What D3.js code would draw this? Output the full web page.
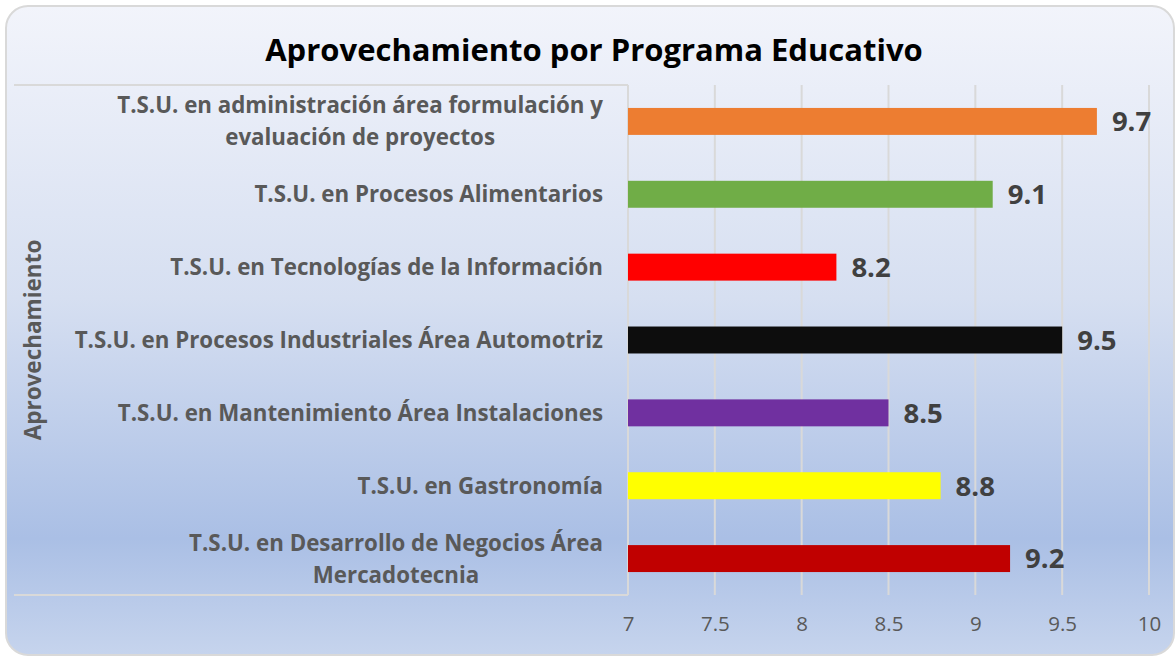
<!DOCTYPE html>
<html>
<head>
<meta charset="utf-8">
<script src="https://cdn.jsdelivr.net/npm/d3@7"></script>
<style>
  html, body { margin: 0; padding: 0; background: #fff; }
  svg { display: block; font-family: "Open Sans", Lato, sans-serif; }
</style>
</head>
<body>
<svg id="chart" width="1176" height="658"></svg>
<script>
// chart data
const categories = [
  "T.S.U. en administración área formulación y\nevaluación de proyectos",
  "T.S.U. en Procesos Alimentarios",
  "T.S.U. en Tecnologías de la Información",
  "T.S.U. en Procesos Industriales Área Automotriz",
  "T.S.U. en Mantenimiento Área Instalaciones",
  "T.S.U. en Gastronomía",
  "T.S.U. en Desarrollo de Negocios Área\nMercadotecnia"
];
const values = [9.7, 9.1, 8.2, 9.5, 8.5, 8.8, 9.2];
const barColors = ["#ED7D31", "#70AD47", "#FF0000", "#0D0D0D", "#7030A0", "#FFFF00", "#C00000"];
const ticks = [7, 7.5, 8, 8.5, 9, 9.5, 10];

const svg = d3.select("#chart");

// background
const defs = svg.append("defs");
const grad = defs.append("linearGradient")
  .attr("id", "bg").attr("x1", 0).attr("y1", 0).attr("x2", 0).attr("y2", 1);
grad.append("stop").attr("offset", "0%").attr("stop-color", "#f2f4fb");
grad.append("stop").attr("offset", "45%").attr("stop-color", "#d6dff1");
grad.append("stop").attr("offset", "82%").attr("stop-color", "#aabfe5");
grad.append("stop").attr("offset", "100%").attr("stop-color", "#c6d4ed");

svg.append("rect")
  .attr("x", 6).attr("y", 6).attr("width", 1168).attr("height", 649)
  .attr("rx", 22).attr("ry", 22)
  .attr("fill", "url(#bg)")
  .attr("stroke", "#d9d9d9").attr("stroke-width", 2);

// scales
const x = d3.scaleLinear().domain([7, 10]).range([628, 1149]);
const y = d3.scaleBand().domain(categories).range([85, 595]).paddingInner(0.63).paddingOuter(0.315);

// gridlines
svg.append("g")
  .selectAll("line")
  .data(ticks)
  .join("line")
  .attr("x1", d => x(d)).attr("x2", d => x(d))
  .attr("y1", 85).attr("y2", 595)
  .attr("stroke", "#d9d9d9").attr("stroke-width", 2);

// label table lines
svg.append("line").attr("x1", 14).attr("x2", x(7)).attr("y1", 85).attr("y2", 85)
  .attr("stroke", "#d9d9d9").attr("stroke-width", 2);
svg.append("line").attr("x1", 14).attr("x2", x(7)).attr("y1", 595).attr("y2", 595)
  .attr("stroke", "#d9d9d9").attr("stroke-width", 2);

// x axis labels
const xAxis = d3.axisBottom(x).tickValues(ticks).tickSize(0).tickPadding(0).tickFormat(d3.format("~g"));
const gx = svg.append("g").attr("transform", "translate(0,616)").call(xAxis);
gx.select(".domain").remove();
gx.selectAll("text")
  .attr("font-family", "'Open Sans', sans-serif")
  .attr("font-size", 20.5)
  .attr("fill", "#595959")
  .attr("dy", "0.71em");

// bars
svg.append("g")
  .selectAll("rect")
  .data(values)
  .join("rect")
  .attr("x", x(7))
  .attr("y", (d, i) => y(categories[i]))
  .attr("width", d => x(d) - x(7))
  .attr("height", y.bandwidth())
  .attr("fill", (d, i) => barColors[i]);

// value labels
svg.append("g")
  .selectAll("text")
  .data(values)
  .join("text")
  .attr("x", d => x(d) + 15)
  .attr("y", (d, i) => y(categories[i]) + y.bandwidth() / 2)
  .attr("dy", "0.36em")
  .attr("font-size", 27.5)
  .attr("font-weight", 700)
  .attr("fill", "#404040")
  .text(d => d3.format(".1f")(d));

// category labels (centered block, right aligned)
const labelRight = 603;
const lineH = 32;
categories.forEach((c, i) => {
  const lines = c.split("\n");
  const cy = y(c) + y.bandwidth() / 2;
  const t = svg.append("text")
    .attr("font-size", 22.3)
    .attr("font-weight", 700)
    .attr("fill", "#595959");
  lines.forEach((ln, j) => {
    t.append("tspan")
      .attr("y", cy + (j - (lines.length - 1) / 2) * lineH)
      .attr("dy", "0.36em")
      .text(ln);
  });
  // measure widest line to place a centered block against the right edge
  const spans = t.selectAll("tspan").nodes();
  const maxW = d3.max(spans, s => s.getComputedTextLength());
  const centerX = labelRight - maxW / 2;
  t.attr("text-anchor", "middle");
  t.selectAll("tspan").attr("x", centerX);
});

// y axis title
svg.append("text")
  .attr("transform", "translate(41,340) rotate(-90)")
  .attr("text-anchor", "middle")
  .attr("font-size", 22.5)
  .attr("font-weight", 700)
  .attr("fill", "#595959")
  .text("Aprovechamiento");

// title
svg.append("text")
  .attr("x", 594).attr("y", 50)
  .attr("dy", "0.36em")
  .attr("text-anchor", "middle")
  .attr("font-size", 31)
  .attr("font-weight", 700)
  .attr("fill", "#000")
  .text("Aprovechamiento por Programa Educativo");
</script>
</body>
</html>
